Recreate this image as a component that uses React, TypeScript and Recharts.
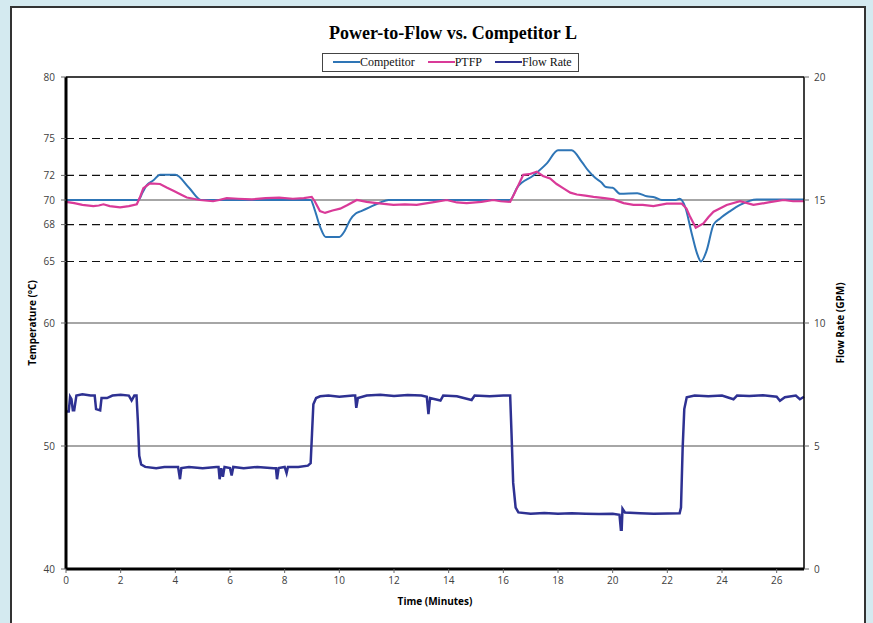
import { ComposedChart, Line, XAxis, YAxis, ReferenceLine, Legend } from 'recharts'

// [minutes, value] pairs
const competitor: [number, number][] = [
  [0, 70], [2.65, 70], [2.8, 70.6], [2.95, 71.2], [3.2, 71.6], [3.44, 72.05], [4.0, 72.05],
  [4.5, 71.0], [4.95, 70.0], [8.95, 70.0], [9.1, 69.2], [9.3, 67.8], [9.5, 67.0], [10.0, 67.0],
  [10.2, 67.5], [10.4, 68.4], [10.6, 68.9], [10.8, 69.1], [11.1, 69.4], [11.5, 69.8], [11.8, 70.0],
  [16.25, 70.0], [16.5, 71.0], [17.1, 72.0], [17.6, 73.0], [18.0, 74.05], [18.5, 74.05],
  [18.87, 73.1], [19.1, 72.4], [19.36, 71.8], [19.6, 71.4], [19.75, 71.05], [20.0, 71.0],
  [20.27, 70.5], [20.9, 70.55], [21.25, 70.3], [21.55, 70.2], [21.8, 70.0], [22.3, 70.0],
  [22.45, 70.1], [22.65, 69.45], [22.89, 67.3], [23.08, 65.7], [23.23, 65.0], [23.44, 65.9],
  [23.69, 68.0], [23.93, 68.5], [24.3, 69.1], [24.66, 69.6], [25.27, 70.05], [27, 70.05],
]

const ptfp: [number, number][] = [
  [0, 69.85], [0.3, 69.75], [0.6, 69.6], [1.0, 69.5], [1.2, 69.55], [1.37, 69.65], [1.6, 69.5],
  [1.98, 69.4], [2.3, 69.5], [2.59, 69.65], [2.7, 70.2], [2.83, 70.95], [3.07, 71.35], [3.44, 71.3],
  [3.7, 71.0], [3.93, 70.75], [4.2, 70.45], [4.42, 70.2], [4.9, 70.0], [5.38, 69.9], [5.6, 70.0],
  [5.88, 70.15], [6.3, 70.1], [6.8, 70.05], [7.3, 70.15], [7.8, 70.2], [8.3, 70.1], [8.7, 70.15],
  [8.99, 70.25], [9.1, 69.9], [9.29, 69.1], [9.48, 68.95], [9.75, 69.15], [10.03, 69.3],
  [10.3, 69.6], [10.64, 70.0], [11.0, 69.85], [11.37, 69.75], [11.98, 69.6], [12.4, 69.65],
  [12.83, 69.6], [13.4, 69.8], [13.93, 70.0], [14.3, 69.8], [14.66, 69.75], [15.2, 69.85],
  [15.63, 70.0], [15.9, 69.9], [16.25, 69.85], [16.4, 70.5], [16.73, 72.05], [16.95, 72.1],
  [17.22, 72.3], [17.45, 71.95], [17.71, 71.75], [17.95, 71.3], [18.2, 70.95], [18.45, 70.6],
  [18.69, 70.45], [19.0, 70.35], [19.3, 70.25], [19.7, 70.15], [20.03, 70.05], [20.4, 69.75],
  [20.76, 69.6], [21.1, 69.6], [21.49, 69.5], [21.98, 69.7], [22.53, 69.7], [22.7, 69.3],
  [22.83, 68.65], [23.04, 67.75], [23.32, 68.1], [23.5, 68.6], [23.69, 69.05], [24.17, 69.6],
  [24.66, 69.9], [25.15, 69.6], [25.7, 69.8], [26.25, 70.0], [26.6, 69.9], [27, 69.9],
]

const flowRate: [number, number][] = [
  [0, 6.4], [0.1, 6.4], [0.15, 7.0], [0.2, 6.9], [0.25, 6.45], [0.3, 6.45], [0.38, 7.05],
  [0.6, 7.1], [0.9, 7.05], [1.05, 7.05], [1.1, 6.5], [1.25, 6.45], [1.3, 6.95], [1.5, 6.95],
  [1.7, 7.05], [2.0, 7.08], [2.3, 7.05], [2.4, 6.85], [2.5, 7.05], [2.58, 7.05], [2.63, 6.0],
  [2.68, 4.6], [2.75, 4.25], [2.9, 4.15], [3.3, 4.1], [3.6, 4.15], [4.0, 4.15], [4.1, 4.15],
  [4.17, 3.65], [4.22, 4.1], [4.5, 4.15], [5.0, 4.1], [5.5, 4.15], [5.58, 4.15], [5.62, 3.65],
  [5.68, 4.1], [5.74, 3.75], [5.8, 4.15], [6.0, 4.1], [6.06, 3.8], [6.12, 4.15], [6.5, 4.1],
  [7.0, 4.15], [7.6, 4.1], [7.68, 4.1], [7.72, 3.65], [7.78, 4.1], [8.0, 4.15], [8.07, 3.9],
  [8.12, 4.15], [8.5, 4.15], [8.85, 4.2], [8.95, 4.3], [9.0, 5.5], [9.05, 6.7], [9.15, 6.95],
  [9.3, 7.02], [9.6, 7.05], [10.0, 7.0], [10.5, 7.05], [10.58, 7.05], [10.62, 6.55], [10.68, 6.95],
  [11.0, 7.05], [11.5, 7.08], [12.0, 7.03], [12.5, 7.07], [13.0, 7.05], [13.2, 7.0], [13.26, 6.3],
  [13.32, 6.95], [13.7, 6.85], [13.8, 7.05], [14.3, 7.02], [14.84, 6.87], [14.95, 7.05],
  [15.5, 7.02], [16.0, 7.05], [16.25, 7.05], [16.3, 5.5], [16.36, 3.5], [16.45, 2.5], [16.55, 2.3],
  [17.0, 2.25], [17.5, 2.28], [18.0, 2.25], [18.5, 2.27], [19.0, 2.25], [19.5, 2.24], [20.0, 2.25],
  [20.25, 2.2], [20.3, 1.6], [20.33, 1.6], [20.36, 2.45], [20.45, 2.3], [21.0, 2.27], [21.5, 2.25],
  [22.0, 2.26], [22.45, 2.27], [22.5, 2.5], [22.56, 4.9], [22.62, 6.5], [22.71, 6.98], [23.0, 7.05],
  [23.5, 7.02], [24.0, 7.05], [24.42, 6.9], [24.55, 7.05], [25.0, 7.03], [25.5, 7.06], [26.0, 7.0],
  [26.12, 6.84], [26.3, 6.98], [26.7, 7.05], [26.85, 6.9], [27, 7.0],
]

const seriesNames = ['Competitor', 'PTFP', 'Flow Rate']
const timeTicks = [0, 2, 4, 6, 8, 10, 12, 14, 16, 18, 20, 22, 24, 26]
const tempTicks = [40, 50, 60, 65, 68, 70, 72, 75, 80]
const flowTicks = [0, 5, 10, 15, 20]
const solidLevels = [50, 60, 70]
const dashedLevels = [65, 68, 72, 75]

const toRows = (pts: [number, number][]) => pts.map(([t, v]) => ({ t, v }))

const tickStyle = { fill: '#404040', fontSize: 10, fontFamily: '"Open Sans", sans-serif' }
const axisTitle = { fontSize: 10, fontWeight: 700, fontFamily: '"Open Sans", sans-serif', fill: '#000' }

function LegendBox({ payload }: any) {
  // keep the series order of the original legend
  const items = seriesNames
    .map((n) => (payload || []).find((p: any) => p.value === n))
    .filter(Boolean)
  return (
    <div
      style={{
        display: 'inline-flex',
        alignItems: 'center',
        border: '1px solid #444',
        background: '#fff',
        height: 17,
        padding: '0 6px 0 10px',
        fontFamily: '"Liberation Serif", serif',
        fontSize: 12,
        color: '#111',
        whiteSpace: 'nowrap',
      }}
    >
      {items.map((p: any, i: number) => (
        <span key={p.value} style={{ display: 'inline-flex', alignItems: 'center', marginLeft: i ? 13 : 0 }}>
          <span style={{ display: 'inline-block', width: 27, borderTop: `2.5px solid ${p.color}` }} />
          {p.value}
        </span>
      ))}
    </div>
  )
}

export default function App() {
  return (
    <div style={{ position: 'fixed', left: 0, top: 0, width: 873, height: 623, background: '#d4eaf0', overflow: 'hidden' }}>
      <div
        style={{
          position: 'absolute',
          left: 10,
          top: 6,
          width: 852,
          height: 640,
          background: '#fff',
          border: '2px solid #333',
        }}
      />
      <div
        style={{
          position: 'absolute',
          left: 253,
          top: 23,
          width: 400,
          textAlign: 'center',
          fontFamily: '"Liberation Serif", serif',
          fontWeight: 700,
          fontSize: 18,
          color: '#000',
        }}
      >
        Power-to-Flow vs. Competitor L
      </div>
      <div style={{ position: 'absolute', left: 0, top: 0 }}>
        <ComposedChart width={873} height={623} margin={{ top: 77, right: 29, bottom: 14, left: 26 }}>
          <XAxis
            dataKey="t"
            type="number"
            domain={[0, 27]}
            ticks={timeTicks}
            tick={tickStyle}
            tickSize={4}
            tickMargin={4}
            height={40}
            axisLine={{ stroke: '#000', strokeWidth: 3 }}
            tickLine={{ stroke: '#666' }}
            label={{ value: 'Time (Minutes)', position: 'insideBottom', offset: 4, style: axisTitle }}
          />
          <YAxis
            yAxisId="left"
            domain={[40, 80]}
            ticks={tempTicks}
            interval={0}
            tick={tickStyle}
            tickSize={5}
            tickMargin={6}
            width={40}
            axisLine={{ stroke: '#000', strokeWidth: 3 }}
            tickLine={{ stroke: '#666' }}
            label={{
              value: 'Temperature (°C)',
              angle: -90,
              position: 'insideLeft',
              offset: 6,
              style: { ...axisTitle, textAnchor: 'middle' },
            }}
          />
          <YAxis
            yAxisId="right"
            orientation="right"
            domain={[0, 20]}
            ticks={flowTicks}
            interval={0}
            tick={tickStyle}
            tickSize={5}
            tickMargin={5}
            width={40}
            axisLine={{ stroke: '#000', strokeWidth: 1.5 }}
            tickLine={{ stroke: '#666' }}
            label={{
              value: 'Flow Rate (GPM)',
              angle: -90,
              position: 'insideRight',
              offset: 4,
              style: { ...axisTitle, textAnchor: 'middle' },
            }}
          />
          {solidLevels.map((y) => (
            <ReferenceLine key={y} yAxisId="left" y={y} stroke="#888" strokeWidth={1.5} />
          ))}
          {dashedLevels.map((y) => (
            <ReferenceLine key={y} yAxisId="left" y={y} stroke="#111" strokeWidth={1.2} strokeDasharray="8 5" />
          ))}
          <ReferenceLine yAxisId="left" y={80} stroke="#000" strokeWidth={1.5} />
          <Legend
            verticalAlign="middle"
            align="center"
            layout="horizontal"
            content={<LegendBox />}
            wrapperStyle={{ top: 49, left: 322, width: 'auto', height: 'auto' }}
          />
          <Line
            yAxisId="left"
            data={toRows(competitor)}
            dataKey="v"
            name="Competitor"
            type="monotone"
            stroke="#2e75b6"
            strokeWidth={2}
            dot={false}
            isAnimationActive={false}
          />
          <Line
            yAxisId="left"
            data={toRows(ptfp)}
            dataKey="v"
            name="PTFP"
            type="linear"
            stroke="#d93a98"
            strokeWidth={2.2}
            dot={false}
            isAnimationActive={false}
          />
          <Line
            yAxisId="right"
            data={toRows(flowRate)}
            dataKey="v"
            name="Flow Rate"
            type="linear"
            stroke="#2e3192"
            strokeWidth={2.5}
            dot={false}
            isAnimationActive={false}
          />
        </ComposedChart>
      </div>
    </div>
  )
}
